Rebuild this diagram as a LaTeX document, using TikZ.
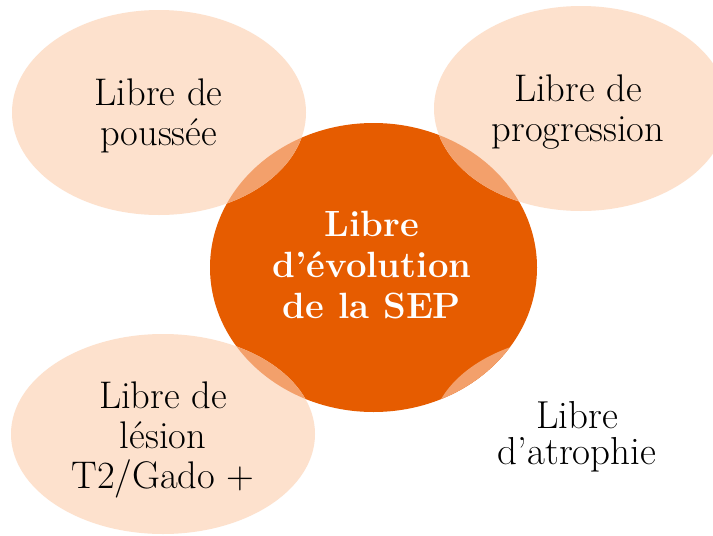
\documentclass[tikz,border=0pt]{standalone}
\usepackage{fontspec}
\definecolor{sepor}{HTML}{E65C00}
\definecolor{peach}{HTML}{FDE1CD}
\definecolor{mixor}{HTML}{F3A06B}
\begin{document}
\begin{tikzpicture}[x=1pt,y=-1pt,
  lbl/.style={align=center, inner sep=0pt, text=black, font=\fontsize{38.5}{40}\selectfont},
  mainlbl/.style={align=center, inner sep=0pt, text=white, font=\bfseries\fontsize{36.5}{41}\selectfont},
  petal/.style={fill=peach},
  overlap/.style={fill=mixor}]
\useasboundingbox (0,0) rectangle (713,536);
\fill[white] (0,0) rectangle (713,536);
% centres
\coordinate (cC) at (373.5,267.5);
\coordinate (cTL) at (159,112.5);
\coordinate (cTR) at (581,108.5);
\coordinate (cBL) at (163,434);
\coordinate (cBR) at (583,435);
% central disc
\fill[sepor] (cC) ellipse [x radius=163.5pt, y radius=144.5pt];
% petals
\fill[petal] (cTL) ellipse [x radius=147pt, y radius=102.5pt];
\fill[petal] (cTR) ellipse [x radius=147pt, y radius=102.5pt];
\fill[petal] (cBL) ellipse [x radius=152pt, y radius=100pt];
% overlaps
\begin{scope}
  \clip (cC) ellipse [x radius=163.5pt, y radius=144.5pt];
  \fill[overlap] (cTL) ellipse [x radius=147pt, y radius=102.5pt];
  \fill[overlap] (cTR) ellipse [x radius=147pt, y radius=102.5pt];
  \fill[overlap] (cBL) ellipse [x radius=152pt, y radius=100pt];
  \fill[overlap] (cBR) ellipse [x radius=152pt, y radius=100pt];
\end{scope}
% labels
\node[mainlbl] (main) at (372,265) {Libre\\d’évolution\\de la SEP};
\node[lbl] (pous) at (158.5,116) {Libre de\\poussée};
\node[lbl] (prog) at (578,112.5) {Libre de\\progression};
\node[lbl] (lesi) at (163,440) {Libre de\\lésion\\T2/Gado +};
\node[lbl, font=\fontsize{39}{36}\selectfont\addfontfeature{FakeBold=0.8}] (atro) at (577,436.5) {Libre\\d’atrophie};
\end{tikzpicture}
\end{document}
